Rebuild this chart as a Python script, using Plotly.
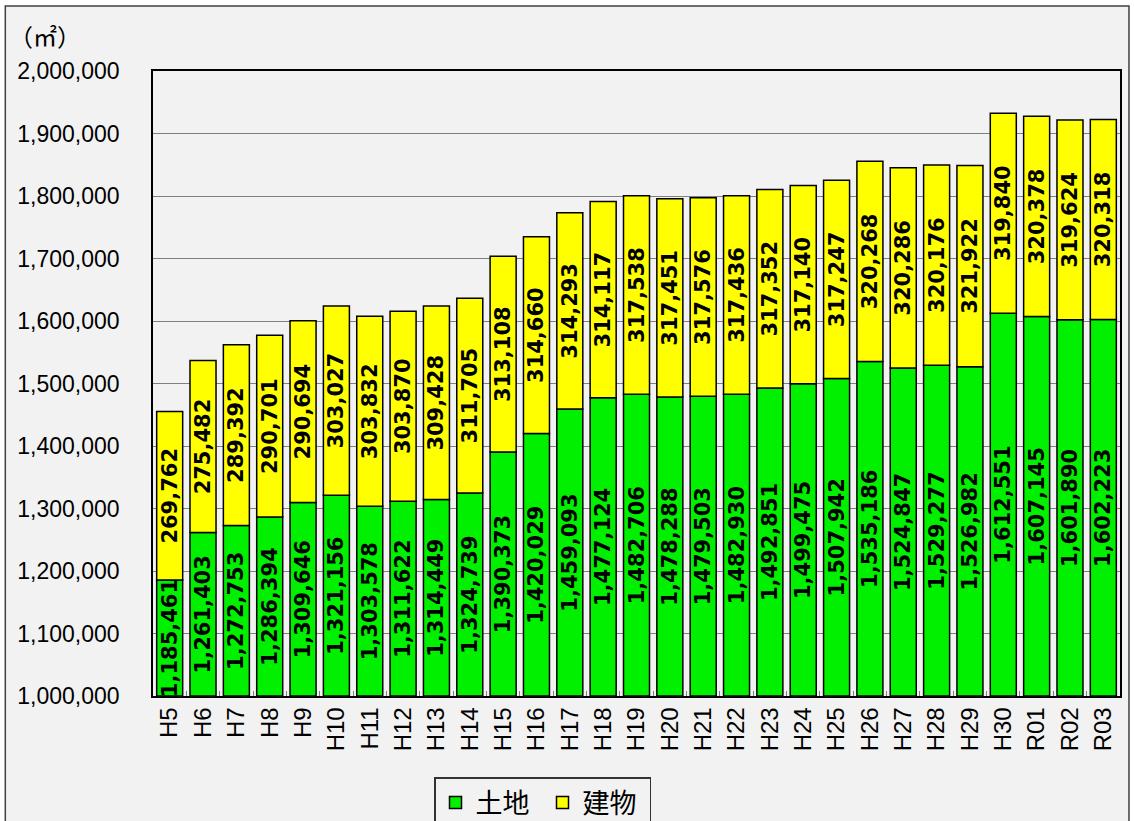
import plotly.graph_objects as go

categories = ["H5", "H6", "H7", "H8", "H9", "H10", "H11", "H12", "H13", "H14", "H15", "H16",
              "H17", "H18", "H19", "H20", "H21", "H22", "H23", "H24", "H25", "H26", "H27",
              "H28", "H29", "H30", "R01", "R02", "R03"]
land = [1185461, 1261403, 1272753, 1286394, 1309646, 1321156, 1303578, 1311622, 1314449,
        1324739, 1390373, 1420029, 1459093, 1477124, 1482706, 1478288, 1479503, 1482930,
        1492851, 1499475, 1507942, 1535186, 1524847, 1529277, 1526982, 1612551, 1607145,
        1601890, 1602223]
building = [269762, 275482, 289392, 290701, 290694, 303027, 303832, 303870, 309428, 311705,
            313108, 314660, 314293, 314117, 317538, 317451, 317576, 317436, 317352, 317140,
            317247, 320268, 320286, 320176, 321922, 319840, 320378, 319624, 320318]
series_names = ["土地", "建物"]
unit_label = "（㎡）"

AXIS_MIN = 1000000
AXIS_MAX = 2000000

W, H = 1134, 821
L, R, T, B = 153, 12, 71, 125
PW, PH = W - L - R, H - T - B

label_font = dict(family="DejaVu Sans", size=21, color="black", weight="bold")

fig = go.Figure()
fig.add_trace(go.Bar(
    x=categories, y=[v - AXIS_MIN for v in land], base=AXIS_MIN,
    name=series_names[0],
    marker=dict(color="#00f000", line=dict(color="black", width=1.5)),
    text=[f"{v:,}" for v in land], textposition="inside", insidetextanchor="middle",
    textangle=-90, textfont=label_font, constraintext="none",
    width=0.78,
))
fig.add_trace(go.Bar(
    x=categories, y=building, base=land,
    name=series_names[1],
    marker=dict(color="#ffff00", line=dict(color="black", width=1.5)),
    text=[f"{v:,}" for v in building], textposition="inside", insidetextanchor="middle",
    textangle=-90, textfont=label_font, constraintext="none",
    width=0.78,
))

fig.update_layout(
    width=W, height=H,
    margin=dict(l=L, r=R, t=T, b=B, pad=0),
    barmode="overlay",
    paper_bgcolor="white",
    plot_bgcolor="rgba(0,0,0,0)",
    font=dict(family="Liberation Sans", color="black"),
    showlegend=True,
    legend=dict(
        orientation="h", xref="container", yref="container",
        x=434 / W, xanchor="left", y=(H - 777) / H, yanchor="top",
        font=dict(family="Noto Sans CJK JP", size=27, color="black"),
        bordercolor="#333333", borderwidth=1.5, bgcolor="#f2f2f2",
        traceorder="normal", itemwidth=30, entrywidth=62, entrywidthmode="pixels",
    ),
    xaxis=dict(
        type="category", tickangle=-90, tickfont=dict(size=24, family="Liberation Sans"),
        showline=True, linecolor="black", linewidth=1.5, mirror=True,
        ticks="inside", tickson="boundaries", ticklen=5, tickcolor="#808080",
        showgrid=False, range=[-0.5, len(categories) - 0.5],
    ),
    yaxis=dict(
        range=[AXIS_MIN, AXIS_MAX], dtick=100000, tickformat=",",
        tickfont=dict(size=23, family="Liberation Sans"),
        showline=True, linecolor="black", linewidth=1.5, mirror=True,
        showgrid=True, gridcolor="#808080", gridwidth=1,
        ticks="", ticklabelstandoff=27, zeroline=False,
    ),
    shapes=[dict(
        type="rect", xref="paper", yref="paper", layer="below",
        x0=(5 - L) / PW, x1=(1131 - L) / PW,
        y0=(T + PH - 830) / PH, y1=(T + PH - 6) / PH,
        line=dict(color="#404040", width=1.5), fillcolor="#f2f2f2",
    )],
    annotations=[dict(
        text=unit_label, xref="paper", yref="paper",
        x=(7 - L) / PW, y=(T + PH - 16) / PH, xanchor="left", yanchor="top",
        showarrow=False, font=dict(family="Noto Sans CJK JP", size=24, color="black"),
    )],
)

fig.write_html(
    "out.html",
    config={"displayModeBar": False},
    post_script="document.body.style.margin='0';document.body.style.overflow='hidden';",
)
